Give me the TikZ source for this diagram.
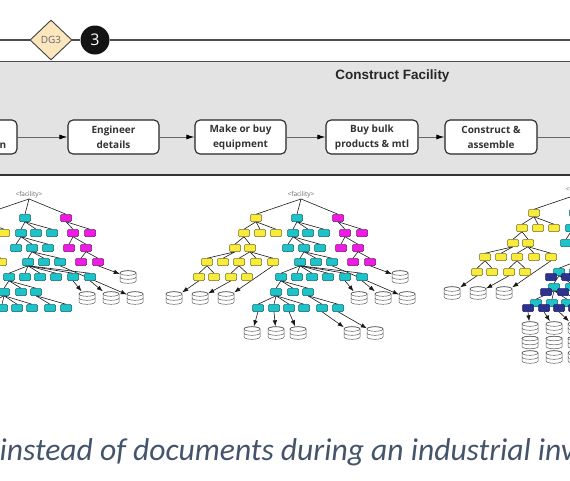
\documentclass[tikz,border=0pt]{standalone}
\usepackage{fontspec}
\newfontfamily\osans{Open Sans}
\newfontfamily\lsans{Liberation Sans}
\newfontfamily\carl{Carlito}
\usetikzlibrary{shapes.geometric,arrows.meta}
\definecolor{tcyan}{HTML}{1CC3C9}
\definecolor{tyellow}{HTML}{F8EB3A}
\definecolor{tmag}{HTML}{EE1CE2}
\definecolor{tblue}{HTML}{2D3192}
\definecolor{bandgray}{HTML}{E3E3E3}
\definecolor{dgfill}{HTML}{FCE6BE}
\definecolor{slate}{HTML}{44546A}
\pgfdeclarelayer{bg}
\pgfsetlayers{bg,main}
\tikzset{
 tbox/.style={rectangle, rounded corners=1pt, minimum width=11pt, minimum height=7pt, inner sep=0pt, line width=0.5pt},
 ybox/.style={tbox, fill=tyellow, draw=tyellow!45!black},
 cbox/.style={tbox, fill=tcyan, draw=tcyan!50!black},
 mbox/.style={tbox, fill=tmag, draw=tmag!50!black},
 bbox/.style={tbox, fill=tblue, draw=tblue!60!black},
 tedge/.style={draw=black!90, line width=0.6pt},
 tarrow/.style={tedge, -{Latex[length=6pt,width=4.5pt]}},
 dbnode/.style={rectangle, minimum width=16pt, minimum height=13pt, inner sep=0pt},
 dbdraw/.style={draw=black!65, line width=0.5pt},
 flabel/.style={font=\osans\fontsize{6.5}{7}\selectfont, text=black!60, inner sep=0.5pt},
 proc/.style={rectangle, rounded corners=5pt, draw=black!85, line width=1.1pt, fill=white, minimum width=91pt, minimum height=34pt, align=center, inner sep=0pt, font=\osans\bfseries\fontsize{10}{15}\selectfont, text=black!80},
 parrow/.style={draw=black!60, line width=0.9pt, -{Latex[length=8pt,width=5pt,color=black]}},
 topline/.style={draw=black!70, line width=1.5pt},
}
\newcommand\dbicon[1]{%
 \filldraw[dbdraw, fill=white]
  ([shift={(-8pt,4pt)}]#1.center) -- ([shift={(-8pt,-4pt)}]#1.center)
  arc[start angle=180, end angle=360, x radius=8pt, y radius=2.3pt]
  -- ([shift={(8pt,4pt)}]#1.center)
  arc[start angle=0, end angle=180, x radius=8pt, y radius=2.3pt] -- cycle;
 \draw[dbdraw] ([shift={(0pt,4pt)}]#1.center) ellipse[x radius=8pt, y radius=2.3pt];
 \draw[dbdraw] ([shift={(-8pt,0pt)}]#1.center) arc[start angle=180, end angle=360, x radius=8pt, y radius=2.3pt];
}
\newcommand\db[2]{\node[dbnode] (#1) at (#2) {}; \dbicon{#1}}
\newcommand\tedges[2]{\foreach \cc in {#2}{\draw[tedge] (#1.south) -- (\cc.north);}}
\newcommand\facilitytree{%
 \node[flabel] (F) at (301,195) {<facility>};
 \node[ybox] (Y1) at (256,218) {};
 \node[cbox] (C1) at (297,218) {};
 \node[mbox] (M1) at (338,218) {};
 \node[ybox] (Y21) at (244,233) {};
 \node[ybox] (Y22) at (260,233) {};
 \node[ybox] (Y23) at (276,233) {};
 \node[cbox] (C21) at (293,233) {};
 \node[cbox] (C22) at (308,233) {};
 \node[cbox] (C23) at (324,233) {};
 \node[mbox] (M21) at (345,233) {};
 \node[mbox] (M22) at (362,233) {};
 \node[ybox] (Y31) at (235,248) {};
 \node[ybox] (Y32) at (250,248) {};
 \node[cbox] (C31) at (288,248) {};
 \node[cbox] (C32) at (304,248) {};
 \node[cbox] (C33) at (320,248) {};
 \node[mbox] (M31) at (341,248) {};
 \node[mbox] (M32) at (358,248) {};
 \node[ybox] (Y41) at (207,262) {};
 \node[ybox] (Y42) at (223,262) {};
 \node[ybox] (Y43) at (239,262) {};
 \node[ybox] (Y44) at (256,262) {};
 \node[ybox] (Y45) at (273,262) {};
 \node[cbox] (C41) at (300,262) {};
 \node[cbox] (C42) at (316,262) {};
 \node[cbox] (C43) at (332,262) {};
 \node[mbox] (M41) at (353,262) {};
 \node[mbox] (M42) at (370,262) {};
 \node[ybox] (Y51) at (199,277) {};
 \node[ybox] (Y52) at (214,277) {};
 \node[ybox] (Y53) at (231,277) {};
 \node[ybox] (Y54) at (247,277) {};
 \node[cbox] (C51) at (281,277) {};
 \node[cbox] (C52) at (297,277) {};
 \node[cbox] (C53) at (312,277) {};
 \node[cbox] (C54) at (328,277) {};
 \node[cbox] (C55) at (345,277) {};
 \node[cbox] (C56) at (362,277) {};
 \node[cbox] (C61) at (276,292) {};
 \node[cbox] (C62) at (293,292) {};
 \node[cbox] (C63) at (308,292) {};
 \node[cbox] (C71) at (258,308) {};
 \node[cbox] (C72) at (274,308) {};
 \node[cbox] (C73) at (289,308) {};
 \node[cbox] (C74) at (304,308) {};
 \node[cbox] (C75) at (322,308) {};
 \node[cbox] (C76) at (338,308) {};
 \begin{pgfonlayer}{bg}
  \tedges{F}{Y1,C1,M1}
  \tedges{Y1}{Y21,Y22,Y23}
  \tedges{Y21}{Y31,Y32}
  \tedges{Y31}{Y41,Y42}
  \tedges{Y32}{Y43,Y44,Y45}
  \tedges{Y41}{Y51,Y52}
  \tedges{Y43}{Y53,Y54}
  \tedges{C1}{C21,C22,C23}
  \tedges{C21}{C31,C32,C33}
  \tedges{C32}{C41,C42,C43}
  \tedges{C41}{C51,C52,C53,C54,C55,C56}
  \tedges{C51}{C61,C62,C63}
  \tedges{C61}{C71,C72,C73,C74}
  \tedges{C63}{C75,C76}
  \tedges{M1}{M21,M22}
  \tedges{M21}{M31,M32}
  \tedges{M32}{M41,M42}
 \end{pgfonlayer}
}
\newcommand\middbs{%
 \db{DM}{400,277}\db{DC1}{359,298}\db{DC2}{383,298}\db{DC3}{407,298}
 \begin{pgfonlayer}{bg}
  \draw[tarrow] (M42.south) -- (DM);
  \draw[tarrow] (C55.south) -- (DC1);
  \draw[tarrow] (C56.south) -- (DC2);
  \draw[tarrow] (C43.south) -- (DC3);
 \end{pgfonlayer}
}
\newcommand\ydbs{%
 \db{DY1}{174,298}\db{DY2}{200,298}\db{DY3}{226,298}
 \begin{pgfonlayer}{bg}
  \draw[tarrow] (Y51.south) -- (DY1);
  \draw[tarrow] (Y53.south) -- (DY2);
  \draw[tarrow] (Y45.south) -- (DY3);
 \end{pgfonlayer}
}
\begin{document}
\begin{tikzpicture}[x=1pt,y=-1pt]
\useasboundingbox (0,0) rectangle (570,480);
\clip (0,0) rectangle (570,480);
% milestone line
\node[diamond, draw=black!75, fill=dgfill, line width=0.9pt, minimum width=42pt, minimum height=40pt, inner sep=0pt, font=\osans\fontsize{10}{11}\selectfont, text=black!60] (dg3) at (51,40) {DG3};
\node[circle, fill=black!92, minimum size=29pt, inner sep=0pt, font=\osans\fontsize{16}{17}\selectfont, text=white] (m3) at (95,40) {3};
\coordinate (tl) at (-2,40);
\coordinate (tr) at (572,40);
\draw[topline] (tl) -- (dg3.west);
\draw[topline] (dg3.east) -- (m3.west);
\draw[topline] (m3.east) -- (tr);
% band
\fill[bandgray] (-2,61) rectangle (572,175);
\draw[draw=black!70, line width=1pt] (-2,61) -- (572,61);
\draw[draw=black!80, line width=1.6pt] (-2,175) -- (572,175);
\node[font=\lsans\bfseries\fontsize{13.5}{15}\selectfont, text=black!85] (title) at (392.5,76) {Construct Facility};
% process
\node[proc] (p0) at (-28.5,137) {};
\node[font=\osans\bfseries\fontsize{10}{15}\selectfont, text=black!80, anchor=base east, inner sep=0pt] (p0n) at (6.5,148) {n};
\node[proc] (p1) at (113.5,137) {Engineer\\details};
\node[proc] (p2) at (240.5,137) {Make or buy\\equipment};
\node[proc, minimum width=92pt] (p3) at (372,137) {Buy bulk\\products \& mtl};
\node[proc, minimum width=92pt] (p4) at (491,137) {Construct \&\\assemble};
\coordinate (pend) at (572,137);
\draw[parrow] (p0.east) -- (p1.west);
\draw[parrow] (p1.east) -- (p2.west);
\draw[parrow] (p2.east) -- (p3.west);
\draw[parrow] (p3.east) -- (p4.west);
\draw[draw=black!60, line width=0.9pt] (p4.east) -- (pend);
% tree 1
\begin{scope}[shift={(-272,0)}, name prefix=a-]
 \facilitytree
 \middbs
\end{scope}
% tree 2
\begin{scope}[name prefix=b-]
 \facilitytree
 \middbs
 \ydbs
 \db{DB1}{252,333}\db{DB2}{276,333}\db{DB3}{298,333}\db{DB4}{352,333}\db{DB5}{375,333}
 \begin{pgfonlayer}{bg}
  \draw[tarrow] (C71.south) -- (DB1);
  \draw[tarrow] (C72.south) -- (DB2);
  \draw[tarrow] (C73.south) -- (DB3);
  \draw[tarrow] (C75.south) -- (DB4);
  \draw[tarrow] (C76.south) -- (DB5);
 \end{pgfonlayer}
\end{scope}
% tree 3
\begin{scope}[shift={(278,-5)}, name prefix=c-]
 \facilitytree
 \ydbs
 \foreach \n in {51,52,53,54,55,56,61,62,63,71,72,73,74,75,76}{
  \node[bbox] (B\n) at ([shift={(-8pt,-5pt)}]C\n) {};
 }
 \db{S11}{252,333}\db{S12}{252,347.5}\db{S13}{252,362}
 \db{S21}{276,333}\db{S22}{276,347.5}\db{S23}{276,362}
 \db{S31}{298,333}\db{S32}{298,347.5}\db{S33}{298,362}
 \begin{pgfonlayer}{bg}
  \draw[tarrow] (B71.south) -- (S11);
  \draw[tarrow] (B72.south) -- (S21);
  \draw[tarrow] (B73.south) -- (S31);
 \end{pgfonlayer}
\end{scope}
% caption
\node[font=\carl\itshape\fontsize{31.6}{37}\selectfont, text=slate, anchor=base west, inner sep=0pt] (caption) at (-0.5,460) {instead of documents during an industrial inv};
\end{tikzpicture}
\end{document}
